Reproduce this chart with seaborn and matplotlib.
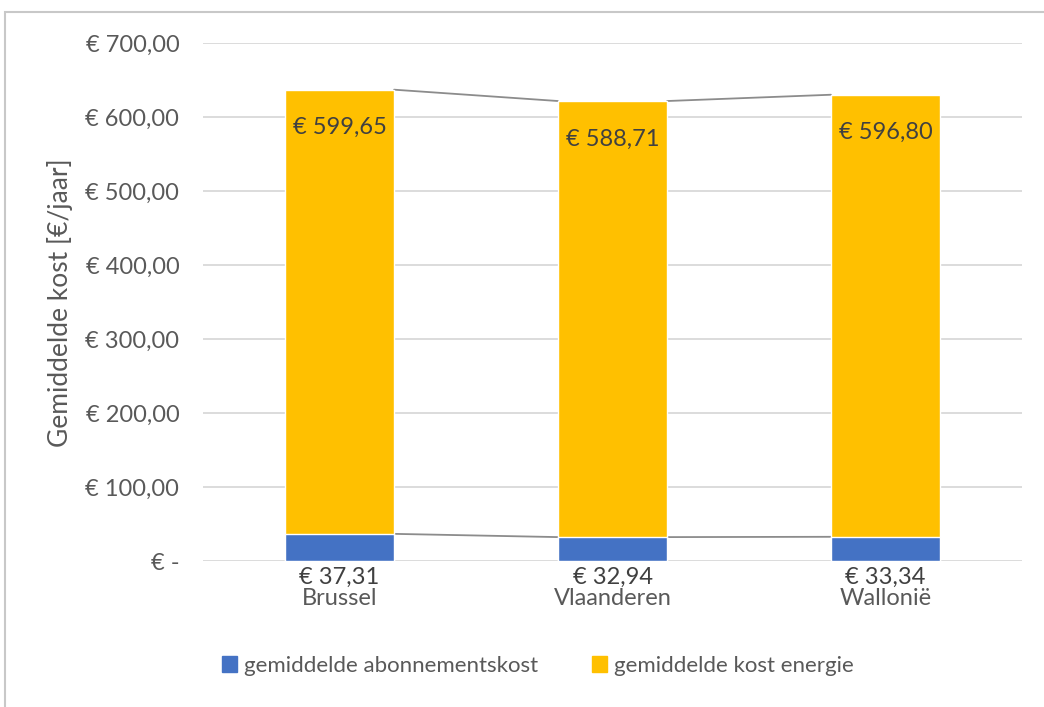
import matplotlib
matplotlib.use('Agg')
import matplotlib.pyplot as plt
import matplotlib.patches as mpatches
import matplotlib.ticker as mtick
import numpy as np
import pandas as pd
import seaborn as sns

# ── Data ────────────────────────────────────────────────────────────────
regions = ['Brussel', 'Vlaanderen', 'Wallonië']
abonnement = [37.31, 32.94, 33.34]
energie = [599.65, 588.71, 596.80]
series_names = ['gemiddelde abonnementskost', 'gemiddelde kost energie']
y_ticks = [0, 100, 200, 300, 400, 500, 600, 700]

# ── Styling ─────────────────────────────────────────────────────────────
BLUE = '#4472C4'
YELLOW = '#FFC000'
TEXT = '#595959'
GRID = '#D9D9D9'

sns.set_theme(style='white')
plt.rcParams['font.family'] = ['Lato', 'DejaVu Sans']


def euro(v):
    if v == 0:
        return '€ -'
    s = f'{v:,.2f}'.replace(',', 'X').replace('.', ',').replace('X', '.')
    return f'€ {s}'


df = pd.DataFrame({'regio': regions, 'abonnement': abonnement, 'energie': energie})
df['totaal'] = df['abonnement'] + df['energie']

fig = plt.figure(figsize=(10.44, 7.07), dpi=100)
ax = fig.add_axes([0.1944, 0.2058, 0.7846, 0.7334])

# outer chart border
fig.patches.append(mpatches.Rectangle((5 / 1044, -0.05), 1.1, 1 - 12 / 707 + 0.05,
                                      transform=fig.transFigure, fill=False,
                                      edgecolor='#C8C8C8', lw=1.5))

# stacked bars: total (yellow) with abonnement (blue) drawn over its base
sns.barplot(data=df, x='regio', y='totaal', color=YELLOW, width=0.4,
            saturation=1, ax=ax, zorder=3)
sns.barplot(data=df, x='regio', y='abonnement', color=BLUE, width=0.4,
            saturation=1, ax=ax, zorder=4)

# series lines between bars
bars = ax.patches[:len(regions)]
for level in ('totaal', 'abonnement'):
    vals = df[level].values
    for i in range(len(regions) - 1):
        x0 = bars[i].get_x() + bars[i].get_width()
        x1 = bars[i + 1].get_x()
        ax.plot([x0, x1], [vals[i], vals[i + 1]], color='#8C8C8C', lw=1.3, zorder=2)

# data labels
for i, row in df.iterrows():
    ax.annotate(euro(row['energie']), (i, row['totaal']), xytext=(0, -38),
                textcoords='offset pixels', ha='center', va='center',
                fontsize=17, color='#404040', zorder=5)
    ax.annotate(euro(row['abonnement']), (i, 0), xytext=(0, -16),
                textcoords='offset pixels', ha='center', va='center',
                fontsize=17, color='#404040', zorder=5, annotation_clip=False)

ax.set_xlim(-0.5, len(regions) - 0.5)
ax.set_ylim(0, 700)
ax.set_yticks(y_ticks)
ax.yaxis.set_major_formatter(mtick.FuncFormatter(lambda v, p: euro(v)))
ax.grid(axis='y', color=GRID, lw=1.3, zorder=0)
ax.set_axisbelow(True)
sns.despine(ax=ax, left=True, bottom=True, top=True, right=True)
ax.tick_params(axis='y', length=0, pad=17, labelsize=17, labelcolor=TEXT)
ax.tick_params(axis='x', length=0, pad=19, labelsize=17, labelcolor=TEXT)
ax.set_xlabel('')
ax.set_ylabel('Gemiddelde kost [€/jaar]', fontsize=19, color=TEXT, labelpad=9)

# legend
handles = [mpatches.Patch(color=BLUE, label=series_names[0]),
           mpatches.Patch(color=YELLOW, label=series_names[1])]
fig.legend(handles=handles, loc='center', bbox_to_anchor=(0.515, 0.058),
           ncol=2, frameon=False, fontsize=16, labelcolor=TEXT,
           handlelength=0.7, handleheight=0.7, handletextpad=0.3,
           columnspacing=2.4)

fig.savefig('out.png', dpi=100)
